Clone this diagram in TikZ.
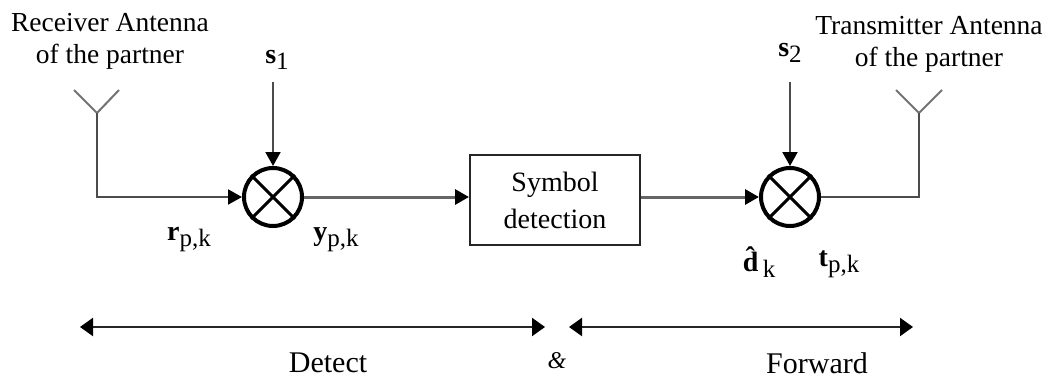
\documentclass[tikz,border=0pt]{standalone}
\usepackage{fontspec}
\setmainfont{Liberation Serif}
\usetikzlibrary{arrows.meta}
\newcommand{\sublabel}[2]{\textbf{#1}\raisebox{-6pt}{\fontsize{25}{25}\selectfont #2}}
\tikzset{
	wire/.style={line width=2pt,color=black!70},
	feed/.style={wire,-{Triangle[length=14pt,width=15pt,color=black]}},
	busfeed/.style={feed,line width=3pt,black!60},
	span/.style={line width=2.2pt,black!85,{Triangle[length=13pt,width=18pt,color=black]}-{Triangle[length=13pt,width=18pt,color=black]}},
	mixer/.style={circle,draw,line width=4pt,minimum size=58pt,inner sep=0pt},
	caption/.style={font=\fontsize{27.5}{32}\selectfont,align=center,inner sep=0pt},
	boxtext/.style={font=\fontsize{28}{37}\selectfont,align=center,inner sep=0pt},
	bigtext/.style={font=\fontsize{30}{32}\selectfont,inner sep=0pt},
	sig/.style={font=\fontsize{28}{30}\selectfont,inner sep=0pt}
}
\begin{document}
\begin{tikzpicture}[x=1pt,y=-1pt]
	\useasboundingbox[fill=white] (0,0) rectangle (1050,380);

	% mixers and detector
	\node[mixer] (mixa) at (273,197) {};
	\node[mixer] (mixb) at (790,197) {};
	\draw[line width=3pt] (mixa.45) -- (mixa.225) (mixa.135) -- (mixa.315);
	\draw[line width=3pt] (mixb.45) -- (mixb.225) (mixb.135) -- (mixb.315);
	\node[draw,line width=2pt,black!85,minimum width=170pt,minimum height=90pt,text=black,boxtext] (detector) at (555,200) {Symbol\\detection};

	% antennas
	\coordinate (rxfoot) at (97,113);
	\coordinate (rxleft) at (74,90);
	\coordinate (rxright) at (119,90);
	\coordinate (txfoot) at (919,113);
	\coordinate (txleft) at (896,90);
	\coordinate (txright) at (942,90);
	\draw[wire,black!55] (rxleft) -- (rxfoot) -- (rxright);
	\draw[wire,black!55] (txleft) -- (txfoot) -- (txright);

	% signal path
	\draw[feed] (rxfoot) |- (mixa.west);
	\draw[busfeed] (mixa.east) -- (detector.west |- mixa.east);
	\draw[busfeed] (detector.east |- mixb.west) -- (mixb.west);
	\draw[wire] (mixb.east) -| (txfoot);

	\coordinate (sonetop) at (273,82);
	\coordinate (stwotop) at (790,82);
	\draw[feed] (sonetop) -- (mixa.north);
	\draw[feed] (stwotop) -- (mixb.north);

	% labels
	\node[caption] (rxtext) at (110,41) {Receiver Antenna\\of the partner};
	\node[caption] (txtext) at (929,44) {Transmitter Antenna\\of the partner};
	\node[sig] (sone) at (277,60) {\sublabel{s}{1}};
	\node[sig] (stwo) at (790,53) {\sublabel{s}{2}};
	\node[sig] (rin) at (189,240) {\sublabel{r}{p,k}};
	\node[sig] (yout) at (336,240) {\sublabel{y}{p,k}};
	\node[sig] (dhat) at (759,262) {\sublabel{\^d}{k}};
	\node[sig] (tout) at (839,264) {\sublabel{t}{p,k}};

	% bottom spans
	\coordinate (detl) at (80,327);
	\coordinate (detr) at (545,327);
	\coordinate (forl) at (569,327);
	\coordinate (forr) at (913,327);
	\draw[span] (detl) -- (detr);
	\draw[span] (forl) -- (forr);
	\node[bigtext] (detect) at (328,363) {Detect};
	\node[font=\fontsize{24}{24}\selectfont\itshape,inner sep=0pt] (amp) at (557,361) {\&};
	\node[bigtext] (forward) at (817,363) {Forward};
\end{tikzpicture}
\end{document}
